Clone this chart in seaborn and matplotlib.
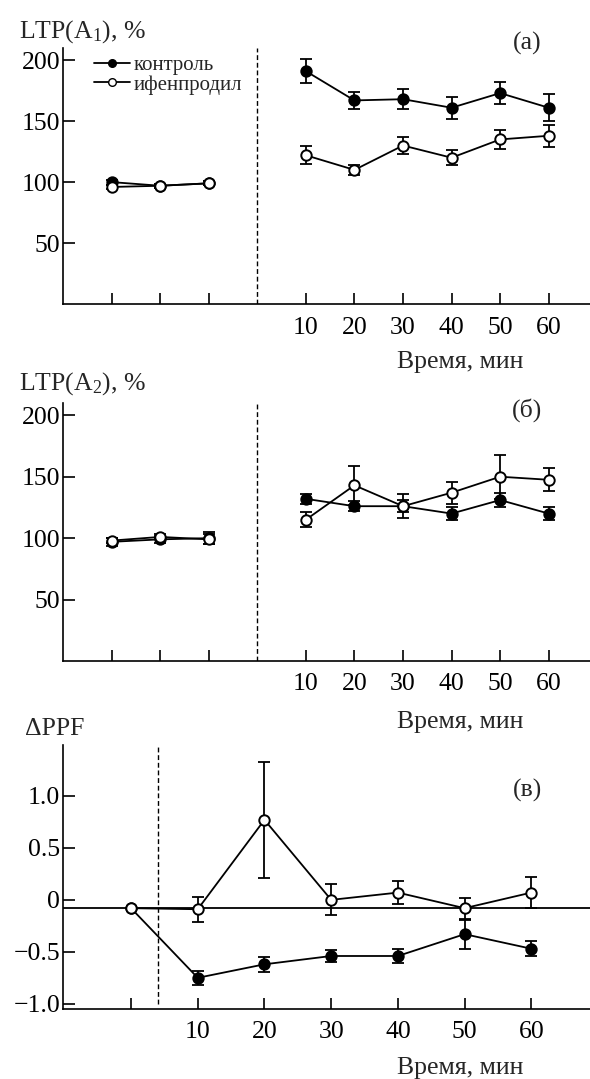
import numpy as np
import pandas as pd
import matplotlib
matplotlib.use("Agg")
import matplotlib.pyplot as plt
from matplotlib.lines import Line2D
import seaborn as sns

sns.set_theme(style="white")
plt.rcParams['font.family'] = ['Liberation Serif', 'DejaVu Serif']
plt.rcParams['mathtext.fontset'] = 'custom'
plt.rcParams['mathtext.rm'] = 'Liberation Serif'
plt.rcParams['mathtext.it'] = 'Liberation Serif:italic'

# ---------------- data ----------------
base_t = [-30, -20, -10]
post_t = [10, 20, 30, 40, 50, 60]
post_labels = ["10", "20", "30", "40", "50", "60"]

a_ctrl_base = [100, 97, 99]
a_ctrl_base_err = [2, 1.5, 1.5]
a_ifen_base = [96, 97, 99]
a_ifen_base_err = [1.5, 1.5, 1.5]
a_ctrl_post = [191, 167, 168, 161, 173, 161]
a_ctrl_post_err = [10, 7, 8, 9, 9, 11]
a_ifen_post = [122, 110, 130, 120, 135, 138]
a_ifen_post_err = [7.5, 4, 7, 6, 8, 9]

b_ctrl_base = [97, 99, 100]
b_ctrl_base_err = [3, 3, 5]
b_ifen_base = [98, 101, 99]
b_ifen_base_err = [2, 2, 4]
b_ctrl_post = [132, 126, 126, 120, 131, 120]
b_ctrl_post_err = [4, 4, 5, 5, 6, 5]
b_ifen_post = [115, 143, 126, 137, 150, 147.5]
b_ifen_post_err = [6, 16, 10, 9, 18, 9.5]

c_t = [0, 10, 20, 30, 40, 50, 60]
c_ctrl = [-0.08, -0.75, -0.62, -0.54, -0.54, -0.33, -0.47]
c_ctrl_err = [0, 0.07, 0.07, 0.06, 0.07, 0.14, 0.07]
c_ifen = [-0.08, -0.09, 0.77, 0.0, 0.07, -0.08, 0.07]
c_ifen_err = [0, 0.12, 0.56, 0.15, 0.11, 0.10, 0.15]
c_ref = -0.08

labels = ["контроль", "ифенпродил"]

LW = 1.3
FS = 18.5

fig = plt.figure(figsize=(5.90, 10.79), dpi=100)
W, H = 590.0, 1079.0

def axes_px(x0, x1, ytop, ybot):
    return fig.add_axes([x0 / W, 1 - ybot / H, (x1 - x0) / W, (ybot - ytop) / H])

def draw(ax, t, v, e, seg, filled, z):
    df = pd.DataFrame({"t": t, "v": v, "seg": seg})
    ax.errorbar(df["t"], df["v"], yerr=e, fmt="none", ecolor="black",
                elinewidth=LW, capsize=4.3, capthick=LW, zorder=z)
    sns.lineplot(data=df, x="t", y="v", units="seg", estimator=None,
                 color="black", lw=LW, marker="o", markersize=7.5,
                 markerfacecolor="black" if filled else "white",
                 markeredgecolor="black", markeredgewidth=1.4,
                 ax=ax, legend=False, zorder=z + 0.5)

def style(ax):
    for s in ["top", "right"]:
        ax.spines[s].set_visible(False)
    for s in ["left", "bottom"]:
        ax.spines[s].set_color("black")
        ax.spines[s].set_linewidth(1.2)
    ax.tick_params(axis="both", direction="in", color="black", width=1.2,
                   labelsize=FS, labelcolor="black")
    ax.tick_params(axis="y", length=8.5, pad=2, left=True)
    ax.tick_params(axis="x", length=8, pad=9, bottom=True)
    ax.set_xlabel("")
    ax.set_ylabel("")
    ax.grid(False)

def ltp_panel(ax, cb, cbe, ib, ibe, cp, cpe, ip, ipe):
    t = base_t + post_t
    seg = [0] * len(base_t) + [1] * len(post_t)
    draw(ax, t, cb + cp, cbe + cpe, seg, True, 2)
    draw(ax, t, ib + ip, ibe + ipe, seg, False, 4)
    ax.axvline(0, color="black", lw=1.0, ls=(0, (3.5, 2)), zorder=1)
    ax.set_xlim(-40, 68.5)
    ax.set_ylim(0, 210)
    ax.set_yticks([50, 100, 150, 200])
    ax.set_yticklabels(["50", "100", "150", "200"])
    ax.set_xticks(base_t + post_t)
    ax.set_xticklabels([""] * len(base_t) + post_labels)
    style(ax)

# panel (a)
ax1 = axes_px(63, 590, 48, 304)
ltp_panel(ax1, a_ctrl_base, a_ctrl_base_err, a_ifen_base, a_ifen_base_err,
          a_ctrl_post, a_ctrl_post_err, a_ifen_post, a_ifen_post_err)
handles = [
    Line2D([], [], color="black", lw=LW, marker="o", markersize=5.5,
           markerfacecolor="black", markeredgecolor="black"),
    Line2D([], [], color="black", lw=LW, marker="o", markersize=5.5,
           markerfacecolor="white", markeredgecolor="black"),
]
ax1.legend(handles, labels, loc="upper left", bbox_to_anchor=(0.035, 1.02),
           frameon=False, fontsize=15, handlelength=1.75, handletextpad=0.15,
           labelspacing=0.0, borderaxespad=0.2)

# panel (b)
ax2 = axes_px(63, 590, 403, 661)
ltp_panel(ax2, b_ctrl_base, b_ctrl_base_err, b_ifen_base, b_ifen_base_err,
          b_ctrl_post, b_ctrl_post_err, b_ifen_post, b_ifen_post_err)

# panel (c)
ax3 = axes_px(63, 590, 745, 1009)
ax3.axhline(c_ref, color="black", lw=LW, zorder=1)
seg_c = [0] * len(c_t)
draw(ax3, c_t, c_ctrl, c_ctrl_err, seg_c, True, 2)
draw(ax3, c_t, c_ifen, c_ifen_err, seg_c, False, 4)
ax3.axvline(4, ymin=0.02, color="black", lw=1.0, ls=(0, (3.5, 2)), zorder=1)
ax3.set_xlim(-10.2, 68.8)
ax3.set_ylim(-1.05, 1.49)
ax3.set_yticks([-1.0, -0.5, 0, 0.5, 1.0])
ax3.set_yticklabels(["\u22121.0", "\u22120.5", "0", "0.5", "1.0"])
ax3.set_xticks(c_t)
ax3.set_xticklabels([""] + post_labels)
style(ax3)

# texts
fig.text(19 / W, 1 - 32 / H, "LTP(A$_1$), %", fontsize=FS, ha="left", va="center")
fig.text(19 / W, 1 - 384 / H, "LTP(A$_2$), %", fontsize=FS, ha="left", va="center")
fig.text(25 / W, 1 - 729 / H, "\u0394PPF", fontsize=FS, ha="left", va="center")
fig.text(527 / W, 1 - 43 / H, "(а)", fontsize=FS, ha="center", va="center")
fig.text(527 / W, 1 - 410 / H, "(б)", fontsize=FS, ha="center", va="center")
fig.text(527 / W, 1 - 790 / H, "(в)", fontsize=FS, ha="center", va="center")
fig.text(460 / W, 1 - 362 / H, "Время, мин", fontsize=FS, ha="center", va="center")
fig.text(460 / W, 1 - 722 / H, "Время, мин", fontsize=FS, ha="center", va="center")
fig.text(460 / W, 1 - 1068 / H, "Время, мин", fontsize=FS, ha="center", va="center")

fig.savefig("out.png", dpi=100)
